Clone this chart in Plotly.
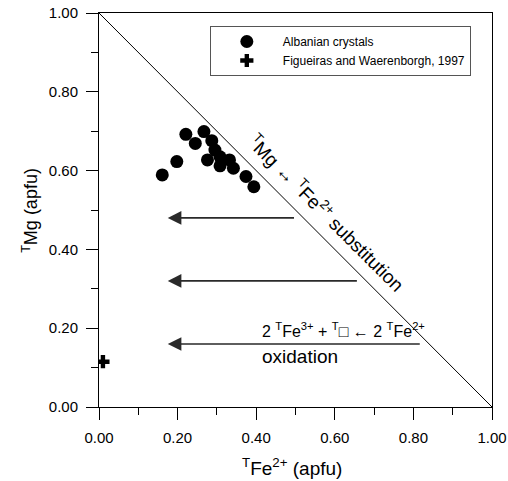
import plotly.graph_objects as go

# Albanian crystals
alb_fe = [0.161, 0.198, 0.221, 0.245, 0.267, 0.276, 0.287, 0.295, 0.308, 0.308, 0.332, 0.342, 0.374, 0.394]
alb_mg = [0.589, 0.623, 0.692, 0.669, 0.699, 0.627, 0.676, 0.652, 0.635, 0.612, 0.627, 0.606, 0.585, 0.559]

# Figueiras and Waerenborgh, 1997
fig_fe = [0.01]
fig_mg = [0.115]

# 1:1 substitution line
diag_x = [0.0, 1.0]
diag_y = [1.0, 0.0]

# oxidation arrows (tail x, head x, y)
arrow_tail_x = [0.50, 0.66, 0.82]
arrow_head_x = [0.175, 0.175, 0.175]
arrow_y = [0.48, 0.32, 0.16]

tick_vals = [0.0, 0.2, 0.4, 0.6, 0.8, 1.0]
tick_text = ["0.00", "0.20", "0.40", "0.60", "0.80", "1.00"]

FONT = "Liberation Sans, Arial, sans-serif"

fig = go.Figure()
fig.add_trace(go.Scatter(x=diag_x, y=diag_y, mode="lines",
                         line=dict(color="black", width=1), showlegend=False,
                         hoverinfo="skip"))
fig.add_trace(go.Scatter(x=alb_fe, y=alb_mg, mode="markers", name="Albanian crystals",
                         marker=dict(symbol="circle", size=13, color="black")))
fig.add_trace(go.Scatter(x=fig_fe, y=fig_mg, mode="markers",
                         name="Figueiras and Waerenborgh, 1997",
                         marker=dict(symbol="cross", size=11, color="black")))

for tx, hx, yy in zip(arrow_tail_x, arrow_head_x, arrow_y):
    fig.add_annotation(x=hx, y=yy, ax=tx, ay=yy, xref="x", yref="y", axref="x", ayref="y",
                       text="", showarrow=True, arrowhead=2, arrowsize=1.7,
                       arrowwidth=1.6, arrowcolor="#2a2a2a")

fig.add_annotation(x=0.58, y=0.492, xref="x", yref="y", showarrow=False, textangle=45,
                   text="<sup>T</sup>Mg \u2194 <sup>T</sup>Fe<sup>2+</sup> substitution",
                   font=dict(family=FONT, size=19, color="black"))
fig.add_annotation(x=0.621, y=0.195, xref="x", yref="y", showarrow=False,
                   text="2 <sup>T</sup>Fe<sup>3+</sup> + <sup>T</sup>\u25a1 \u2190 2 <sup>T</sup>Fe<sup>2+</sup>",
                   font=dict(family=FONT, size=16, color="black"))
fig.add_annotation(x=0.511, y=0.127, xref="x", yref="y", showarrow=False,
                   text="oxidation", font=dict(family=FONT, size=19, color="black"))

# axis titles
fig.add_annotation(x=0.491, y=-0.152, xref="paper", yref="paper", showarrow=False,
                   xanchor="center", yanchor="middle",
                   text="<sup>T</sup>Fe<sup>2+</sup> (apfu)",
                   font=dict(family=FONT, size=19, color="black"))
fig.add_annotation(x=-0.176, y=0.5, xref="paper", yref="paper", showarrow=False,
                   xanchor="center", yanchor="middle", textangle=-90,
                   text="<sup>T</sup>Mg (apfu)",
                   font=dict(family=FONT, size=18, color="black"))

axis_common = dict(range=[0, 1], showgrid=False, zeroline=False, showline=True,
                   linecolor="black", linewidth=1, mirror=True, ticks="outside",
                   ticklen=12, tickcolor="black", tickwidth=1, automargin=False,
                   tickvals=tick_vals, ticktext=tick_text, ticklabelstandoff=5,
                   ticklabeloverflow="allow",
                   tickfont=dict(family=FONT, size=15, color="black"),
                   minor=dict(ticks="outside", ticklen=7, dtick=0.1, tickcolor="black"))

fig.update_layout(
    width=508, height=481,
    margin=dict(l=99, r=16, t=13, b=74, autoexpand=False),
    plot_bgcolor="white", paper_bgcolor="white",
    font=dict(family=FONT, color="black"),
    xaxis=dict(axis_common),
    yaxis=dict(axis_common),
    legend=dict(x=0.282, y=0.967, xanchor="left", yanchor="top",
                bordercolor="#555555", borderwidth=1, bgcolor="white",
                font=dict(family=FONT, size=12, color="black"),
                itemwidth=62, tracegroupgap=0),
    showlegend=True,
)

fig.write_html("out.html", config={"displayModeBar": False},
               post_script="document.body.style.margin='0px';document.body.style.overflow='hidden';")
